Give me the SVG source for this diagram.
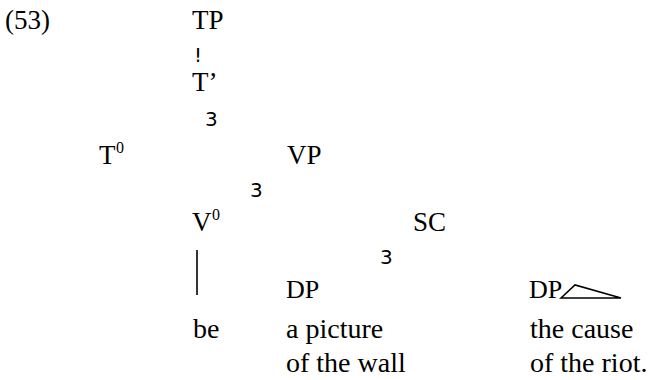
<svg xmlns="http://www.w3.org/2000/svg" width="651" height="380" viewBox="0 0 651 380">
<style>
.t{font-family:"Liberation Serif","Times New Roman",serif;font-size:27px;fill:#000}
.d{font-family:"Liberation Serif","Times New Roman",serif;font-size:26px;fill:#000}
.w{font-family:"Liberation Serif","Times New Roman",serif;font-size:28px;fill:#000}
.s{font-family:"Liberation Serif","Times New Roman",serif;font-size:16px;fill:#000}
.b{font-family:"DejaVu Sans",sans-serif;font-size:20px;fill:#000}
.ln{stroke:#000;stroke-width:1.6;fill:none}
</style>
<rect width="651" height="380" fill="#fff"/>
<text class="t" x="5" y="29">(53)</text>
<g id="TP"><text class="t" x="192" y="29">TP</text></g>
<g id="Tbar"><text class="t" x="192" y="91">T’</text></g>
<g id="T0"><text class="t" x="99" y="164">T</text><text class="s" x="116" y="153">0</text></g>
<g id="VP"><text class="t" x="287" y="164">VP</text></g>
<g id="V0"><text class="t" x="192" y="231">V</text><text class="s" x="212" y="220">0</text></g>
<g id="SC"><text class="t" x="413" y="231">SC</text></g>
<g id="DP1"><text class="d" x="286" y="298">DP</text><text class="w" x="286" y="338">a picture</text><text class="w" x="286" y="372">of the wall</text></g>
<g id="DP2"><text class="d" x="529" y="298">DP</text><text class="w" x="530" y="338">the cause</text><text class="w" x="530" y="372">of the riot.</text></g>
<g id="be"><text class="w" x="193" y="338">be</text></g>
<g id="connectors">
<text class="b" x="194" y="62">!</text>
<text class="b" x="205" y="126">3</text>
<text class="b" x="250" y="197">3</text>
<text class="b" x="380" y="264">3</text>
<line class="ln" x1="197" y1="250" x2="197" y2="295"/>
<polygon class="ln" points="561,298 575,285 621,298"/>
</g>
</svg>
